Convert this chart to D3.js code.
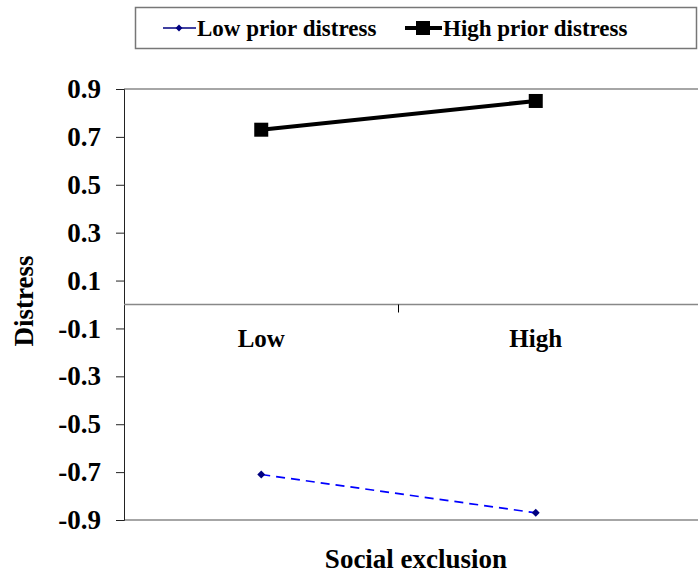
<!DOCTYPE html>
<html>
<head>
<meta charset="utf-8">
<script src="https://cdn.jsdelivr.net/npm/d3@7"></script>
<style>
body { margin: 0; background: #fff; }
text { font-family: "Liberation Serif", "Times New Roman", serif; font-weight: bold; fill: #000; }
</style>
</head>
<body>
<script>
// data
var categories = ['Low', 'High'];
var lowPrior = [-0.71, -0.87];
var highPrior = [0.73, 0.85];
var yTicks = [0.9, 0.7, 0.5, 0.3, 0.1, -0.1, -0.3, -0.5, -0.7, -0.9];
var seriesNames = ['Low prior distress', 'High prior distress'];

var W = 698, H = 575;
var plotL = 124, plotR = 673, plotT = 89, plotB = 520;

var svg = d3.select('body').append('svg')
    .attr('width', W).attr('height', H);

var x = d3.scaleBand().domain(categories).range([plotL, plotR]);
var y = d3.scaleLinear().domain([-0.9, 0.9]).range([plotB, plotT]);

// top and bottom frame lines (gray)
svg.append('line').attr('x1', plotL).attr('x2', W).attr('y1', y(0.9)).attr('y2', y(0.9))
    .style('stroke', '#888').style('stroke-width', 1.5);
svg.append('line').attr('x1', plotL).attr('x2', W).attr('y1', y(-0.9)).attr('y2', y(-0.9))
    .style('stroke', '#888').style('stroke-width', 1.5);

// y axis (plain hyphen for negatives, as in the original)
var yAxis = d3.axisLeft(y).tickValues(yTicks).tickSize(8)
    .tickFormat(function(d) { return d.toFixed(1); });
var gy = svg.append('g').attr('transform', 'translate(' + plotL + ',0)').call(yAxis);
gy.select('.domain').style('stroke', '#222');
gy.selectAll('.tick line').style('stroke', '#222');
gy.selectAll('.tick text').attr('x', -23).style('font-size', '27px')
    .style('font-family', '"Liberation Serif", serif').style('font-weight', 'bold');

// x axis at zero
var gx = svg.append('g').attr('transform', 'translate(0,' + y(0) + ')');
gx.append('line').attr('x1', plotL).attr('x2', W).attr('y1', 0).attr('y2', 0)
    .style('stroke', '#888').style('stroke-width', 1.5);
gx.append('line').attr('x1', x('High')).attr('x2', x('High')).attr('y1', 0).attr('y2', 8)
    .style('stroke', '#000');
gx.selectAll('text.cat').data(categories).enter().append('text')
    .attr('class', 'cat')
    .attr('x', function(d) { return x(d) + x.bandwidth() / 2; })
    .attr('y', 42)
    .attr('text-anchor', 'middle')
    .style('font-size', '25px')
    .text(function(d) { return d; });

var cx = function(d, i) { return x(categories[i]) + x.bandwidth() / 2; };

// low prior distress: blue dashed, small diamonds
var lineGen = d3.line().x(cx).y(function(d) { return y(d); });
svg.append('path').datum(lowPrior).attr('d', lineGen)
    .style('fill', 'none').style('stroke', '#0000ff').style('stroke-width', 1.7)
    .style('stroke-dasharray', '9,6');
svg.selectAll('path.dia').data(lowPrior).enter().append('path')
    .attr('class', 'dia')
    .attr('d', d3.symbol().type(d3.symbolDiamond2).size(40))
    .attr('transform', function(d, i) { return 'translate(' + cx(d, i) + ',' + y(d) + ')'; })
    .style('fill', '#000080');

// high prior distress: thick black, squares
svg.append('path').datum(highPrior).attr('d', lineGen)
    .style('fill', 'none').style('stroke', '#000').style('stroke-width', 4);
svg.selectAll('rect.sq').data(highPrior).enter().append('rect')
    .attr('class', 'sq')
    .attr('x', function(d, i) { return cx(d, i) - 7; })
    .attr('y', function(d) { return y(d) - 7; })
    .attr('width', 14).attr('height', 14)
    .style('fill', '#000');

// axis titles
svg.append('text')
    .attr('transform', 'translate(33,301) rotate(-90)')
    .attr('text-anchor', 'middle')
    .style('font-size', '27px')
    .text('Distress');
svg.append('text')
    .attr('x', 416).attr('y', 568)
    .attr('text-anchor', 'middle')
    .style('font-size', '27px')
    .text('Social exclusion');

// legend
var lg = svg.append('g');
lg.append('rect').attr('x', 135.5).attr('y', 7.5).attr('width', 561).attr('height', 41)
    .style('fill', '#fff').style('stroke', '#777').style('stroke-width', 1.5);
lg.append('line').attr('x1', 163).attr('x2', 196).attr('y1', 28).attr('y2', 28)
    .style('stroke', '#000080').style('stroke-width', 1.5);
lg.append('path').attr('d', d3.symbol().type(d3.symbolDiamond2).size(30))
    .attr('transform', 'translate(179,28)').style('fill', '#000080');
lg.append('text').attr('x', 197).attr('y', 36).style('font-size', '23px').text(seriesNames[0]);
lg.append('line').attr('x1', 405).attr('x2', 442).attr('y1', 28).attr('y2', 28)
    .style('stroke', '#000').style('stroke-width', 4);
lg.append('rect').attr('x', 416).attr('y', 21).attr('width', 14).attr('height', 14).style('fill', '#000');
lg.append('text').attr('x', 443).attr('y', 36).style('font-size', '23px').text(seriesNames[1]);
</script>
</body>
</html>
